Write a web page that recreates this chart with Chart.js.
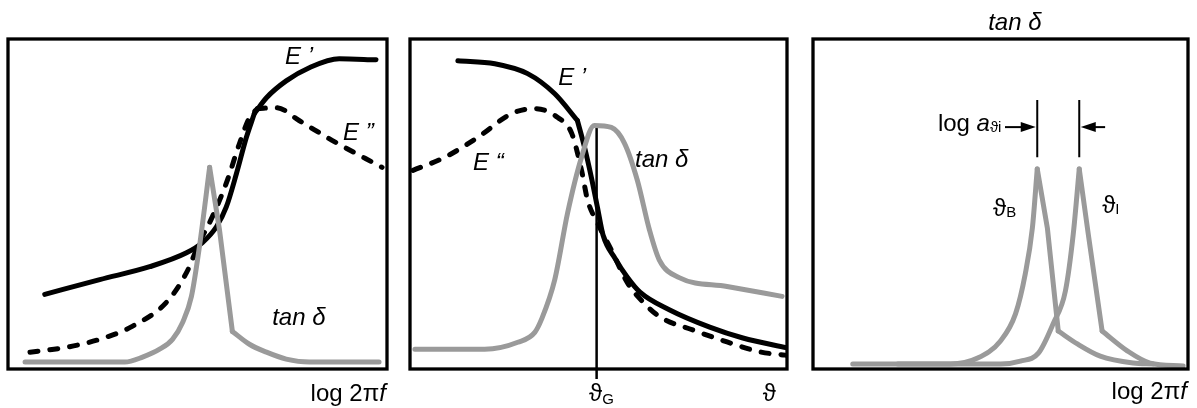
<!DOCTYPE html>
<html>
<head>
<meta charset="utf-8">
<script src="https://cdn.jsdelivr.net/npm/chart.js@4"></script>
<style>
  body { margin: 0; background: #fff; }
  #wrap { position: relative; width: 1197px; height: 408px; }
  .panel { position: absolute; top: 0; height: 408px; }
</style>
</head>
<body>
<div id="wrap">
  <div class="panel" style="left:0;width:400px"><canvas id="freq-chart"></canvas></div>
  <div class="panel" style="left:400px;width:400px"><canvas id="temp-chart"></canvas></div>
  <div class="panel" style="left:800px;width:397px"><canvas id="shift-chart"></canvas></div>
</div>
<script>
// left panel: E', E'' and tan delta over log frequency
const freqStorageX = [9.7, 24.2, 37.4, 47.1, 51.3, 55.0, 57.6, 60.3, 62.9, 65.0, 68.2, 73.4, 79.5, 87.4, 97.1];
const freqStorageY = [22.6, 27.1, 31.0, 35.2, 38.3, 43.1, 49.1, 59.3, 70.2, 77.4, 82.2, 87.3, 91.3, 94.0, 93.7];
const freqLossX = [5.8, 15.5, 24.2, 32.9, 41.8, 47.1, 50.5, 53.9, 57.6, 61.1, 63.7, 65.8, 70.8, 76.8, 85.5, 98.7];
const freqLossY = [5.1, 6.6, 9.0, 13.0, 20.2, 29.2, 38.3, 46.1, 56.3, 68.4, 76.2, 78.9, 79.2, 75.3, 69.3, 61.1];
const freqTanX = [4.5, 30.8, 35.5, 40.0, 43.4, 46.1, 48.4, 50.5, 53.2, 55.8, 59.2, 63.7, 68.2, 73.4, 79.5, 97.9];
const freqTanY = [2.1, 2.1, 3.6, 6.0, 9.0, 14.2, 22.0, 37.0, 61.1, 42.2, 11.4, 7.5, 5.1, 3.0, 2.1, 2.1];

// middle panel: the same quantities over temperature
const tempStorageX = [12.7, 22.5, 31.2, 38.4, 44.4, 46.3, 48.1, 49.7, 51.2, 54.4, 57.6, 61.0, 68.9, 79.5, 88.3, 100];
const tempStorageY = [93.4, 92.5, 89.5, 83.4, 75.3, 67.2, 58.1, 49.1, 40.6, 33.5, 27.9, 23.3, 17.9, 12.7, 9.4, 6.4];
const tempLossX = [0.8, 9.3, 18.0, 27.0, 33.1, 39.2, 42.9, 45.5, 47.1, 49.7, 53.4, 57.7, 61.8, 66.3, 75.1, 84.1, 92.8, 99.5];
const tempLossY = [60.2, 64.2, 70.2, 77.4, 78.9, 76.2, 71.4, 60.2, 51.2, 44.3, 36.1, 26.1, 20.3, 15.8, 11.8, 8.2, 5.2, 4.2];
const tempTanX = [1.3, 19.8, 28.6, 33.1, 34.9, 38.4, 41.8, 45.5, 48.9, 53.4, 56.9, 60.3, 63.5, 66.1, 71.4, 84.1, 98.7];
const tempTanY = [6.0, 6.0, 8.1, 11.1, 15.1, 27.1, 47.3, 64.2, 73.8, 73.2, 68.4, 57.2, 42.2, 33.1, 27.7, 25.0, 22.0];
const glassTempX = 49.5;
const glassLineY = [73.5, -3];

// right panel: tan delta at two temperatures, shifted by log a
const shiftBX = [10.6, 36.7, 43.9, 50.0, 54.0, 56.6, 58.5, 59.8, 62.5, 65.4, 70.5, 76.6, 85.4, 90.7];
const shiftBY = [1.5, 1.5, 3.3, 8.5, 16.7, 28.8, 42.7, 60.6, 42.7, 11.5, 7.6, 3.9, 1.8, 1.5];
const shiftIX = [22.6, 50.0, 55.3, 60.1, 64.1, 67.3, 69.4, 71.0, 73.4, 77.1, 83.8, 89.9, 98.7];
const shiftIY = [1.5, 1.5, 2.4, 4.8, 13.9, 23.6, 40.9, 60.6, 40.9, 11.5, 5.5, 1.8, 0.9];
const peakMarkX = [59.8, 71.0];
const peakMarkY = [81.5, 64.2];
const arrowY = 73.3;
const arrowTails = [51.2, 77.9];

const SANS = '"Liberation Sans", Arial, sans-serif';
const REG = '24px ' + SANS;
const ITAL = 'italic 24px ' + SANS;
const SUB = '15px ' + SANS;
const GREY = '#9a9a9a';

// points from index a to b (inclusive), so curves can be split at corners
function pts(xs, ys, a = 0, b = xs.length - 1) {
  const out = [];
  for (let i = a; i <= b; i++) out.push({ x: xs[i], y: ys[i] });
  return out;
}

const solidLine = { borderColor: '#000', borderWidth: 5, pointRadius: 0, cubicInterpolationMode: 'monotone', borderCapStyle: 'round', borderJoinStyle: 'round' };
const dashLine = { ...solidLine, borderDash: [8, 12] };
const greyCurve = { borderColor: GREY, borderWidth: 5, pointRadius: 0, cubicInterpolationMode: 'monotone', borderCapStyle: 'round', borderJoinStyle: 'round' };
const greyStraight = { ...greyCurve, cubicInterpolationMode: 'default', tension: 0 };
const thinLine = { borderColor: '#000', borderWidth: 2.5, pointRadius: 0, tension: 0, clip: false };

// black box round the plot area
const framePlugin = {
  id: 'frame',
  afterDatasetsDraw(chart) {
    const { ctx, chartArea: a } = chart;
    ctx.save();
    ctx.lineWidth = 3.3;
    ctx.strokeStyle = '#000';
    ctx.strokeRect(a.left, a.top, a.right - a.left, a.bottom - a.top);
    ctx.restore();
  }
};

// text placed in data units, each label made of styled runs
function textPlugin(items) {
  return {
    id: 'text',
    afterDraw(chart) {
      const { ctx, scales: { x, y } } = chart;
      ctx.save();
      ctx.fillStyle = '#000';
      ctx.textBaseline = 'alphabetic';
      items.forEach(item => {
        let px = x.getPixelForValue(item.x);
        const py = y.getPixelForValue(item.y);
        if (item.align === 'right') {
          let w = 0;
          item.parts.forEach(p => { ctx.font = p.font; w += ctx.measureText(p.t).width; });
          px -= w;
        }
        item.parts.forEach(p => {
          ctx.font = p.font;
          ctx.fillText(p.t, px, py + (p.dy || 0));
          px += ctx.measureText(p.t).width;
        });
      });
      ctx.restore();
    }
  };
}

// arrows pointing at the two peak markers
const arrowPlugin = {
  id: 'arrows',
  afterDatasetsDraw(chart) {
    const { ctx, scales: { x, y } } = chart;
    const py = y.getPixelForValue(arrowY);
    ctx.save();
    ctx.strokeStyle = '#000';
    ctx.fillStyle = '#000';
    ctx.lineWidth = 2;
    arrowTails.forEach((tail, i) => {
      const x0 = x.getPixelForValue(tail);
      const tip = x.getPixelForValue(peakMarkX[i]);
      const dir = Math.sign(tip - x0);
      const tipX = tip - dir * 1.5;
      ctx.beginPath();
      ctx.moveTo(x0, py);
      ctx.lineTo(tipX - dir * 10, py);
      ctx.stroke();
      ctx.beginPath();
      ctx.moveTo(tipX, py);
      ctx.lineTo(tipX - dir * 15, py - 5);
      ctx.lineTo(tipX - dir * 15, py + 5);
      ctx.closePath();
      ctx.fill();
    });
    ctx.restore();
  }
};

function baseOptions(padLeft, padRight) {
  return {
    responsive: true,
    maintainAspectRatio: false,
    animation: false,
    events: [],
    layout: { padding: { left: padLeft, right: padRight, top: 39, bottom: 39 } },
    plugins: { legend: { display: false }, tooltip: { enabled: false } },
    scales: {
      x: { type: 'linear', min: 0, max: 100, display: false },
      y: { type: 'linear', min: 0, max: 100, display: false }
    }
  };
}

const THETA = '\u03d1';

new Chart(document.getElementById('freq-chart'), {
  type: 'line',
  data: {
    datasets: [
      { ...greyCurve, data: pts(freqTanX, freqTanY, 0, 8) },
      { ...greyStraight, data: pts(freqTanX, freqTanY, 8, 10) },
      { ...greyCurve, data: pts(freqTanX, freqTanY, 10) },
      { ...dashLine, data: pts(freqLossX, freqLossY, 0, 11) },
      { ...dashLine, data: pts(freqLossX, freqLossY, 11) },
      { ...solidLine, data: pts(freqStorageX, freqStorageY, 0, 9) },
      { ...solidLine, data: pts(freqStorageX, freqStorageY, 9) }
    ]
  },
  options: baseOptions(8, 13),
  plugins: [framePlugin, textPlugin([
    { x: 73.1, y: 92.5, parts: [{ t: 'E \u2019', font: ITAL }] },
    { x: 88.4, y: 69.4, parts: [{ t: 'E \u201d', font: ITAL }] },
    { x: 69.7, y: 13.3, parts: [{ t: 'tan \u03b4', font: ITAL }] },
    { x: 99.7, y: -9.7, align: 'right', parts: [{ t: 'log 2\u03c0', font: REG }, { t: 'f', font: ITAL }] }
  ])]
});

new Chart(document.getElementById('temp-chart'), {
  type: 'line',
  data: {
    datasets: [
      { ...greyCurve, data: pts(tempTanX, tempTanY) },
      { ...dashLine, data: pts(tempLossX, tempLossY) },
      { ...solidLine, data: pts(tempStorageX, tempStorageY, 0, 4) },
      { ...solidLine, data: pts(tempStorageX, tempStorageY, 4) },
      { ...thinLine, data: pts([glassTempX, glassTempX], glassLineY) }
    ]
  },
  options: baseOptions(10, 13),
  plugins: [framePlugin, textPlugin([
    { x: 39.3, y: 86.1, parts: [{ t: 'E \u2019', font: ITAL }] },
    { x: 16.7, y: 60.3, parts: [{ t: 'E \u201c', font: ITAL }] },
    { x: 59.7, y: 61.2, parts: [{ t: 'tan \u03b4', font: ITAL }] },
    { x: 47.5, y: -9.7, parts: [{ t: THETA, font: REG }, { t: 'G', font: SUB, dy: 3 }] },
    { x: 93.6, y: -9.7, parts: [{ t: THETA, font: REG }] }
  ])]
});

new Chart(document.getElementById('shift-chart'), {
  type: 'line',
  data: {
    datasets: [
      { ...greyCurve, data: pts(shiftBX, shiftBY, 0, 7) },
      { ...greyStraight, data: pts(shiftBX, shiftBY, 7, 9) },
      { ...greyCurve, data: pts(shiftBX, shiftBY, 9) },
      { ...greyCurve, data: pts(shiftIX, shiftIY, 0, 7) },
      { ...greyStraight, data: pts(shiftIX, shiftIY, 7, 9) },
      { ...greyCurve, data: pts(shiftIX, shiftIY, 9) },
      { ...thinLine, borderWidth: 2, data: pts([peakMarkX[0], peakMarkX[0]], peakMarkY) },
      { ...thinLine, borderWidth: 2, data: pts([peakMarkX[1], peakMarkX[1]], peakMarkY) }
    ]
  },
  options: baseOptions(13, 9),
  plugins: [framePlugin, arrowPlugin, textPlugin([
    { x: 46.7, y: 102.7, parts: [{ t: 'tan \u03b4', font: ITAL }] },
    { x: 99.7, y: -9.1, align: 'right', parts: [{ t: 'log 2\u03c0', font: REG }, { t: 'f', font: ITAL }] },
    { x: 33.3, y: 72.1, parts: [{ t: 'log ', font: REG }, { t: 'a', font: ITAL }, { t: THETA + 'i', font: SUB, dy: 1 }] },
    { x: 48.0, y: 46.4, parts: [{ t: THETA, font: REG }, { t: 'B', font: SUB, dy: 1 }] },
    { x: 77.1, y: 47.3, parts: [{ t: THETA, font: REG }, { t: 'I', font: SUB, dy: 1 }] }
  ])]
});
</script>
</body>
</html>
